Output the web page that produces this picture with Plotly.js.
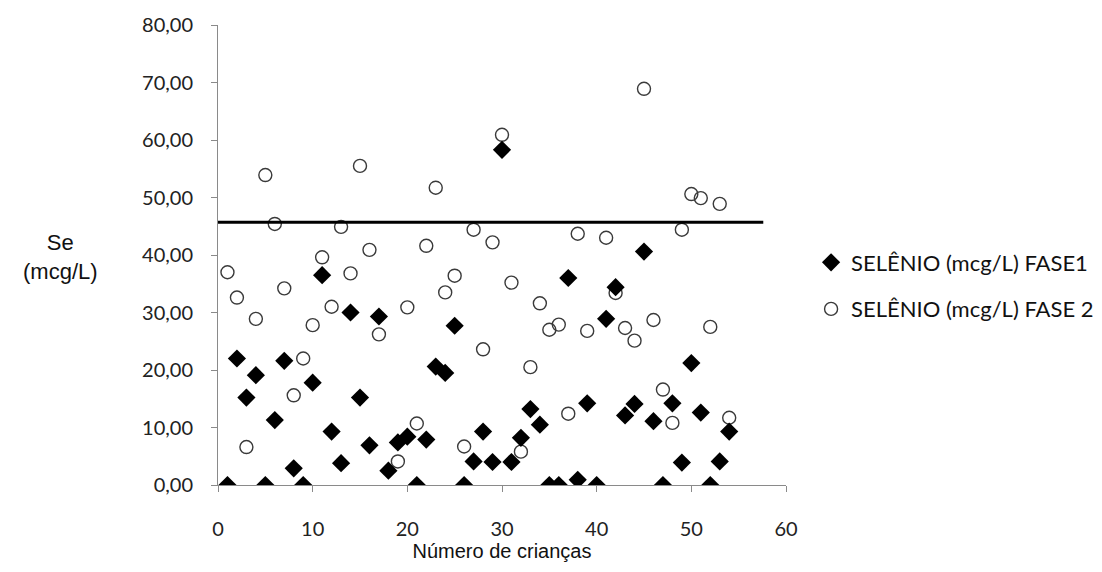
<!DOCTYPE html>
<html>
<head>
<meta charset="utf-8">
<script src="https://cdn.plot.ly/plotly-3.0.1.min.js"></script>
<style>html,body{margin:0;padding:0;background:#fff;}#chart{width:1102px;height:572px;}</style>
</head>
<body>
<div id="chart"></div>
<script>
// Número de crianças (x)
const criancas = [1,2,3,4,5,6,7,8,9,10,11,12,13,14,15,16,17,18,19,20,21,22,23,24,25,26,27,28,29,30,31,32,33,34,35,36,37,38,39,40,41,42,43,44,45,46,47,48,49,50,51,52,53,54];
// SELÊNIO (mcg/L) FASE1
const fase1 = [0,22.0,15.2,19.1,0,11.3,21.6,2.9,0,17.8,36.5,9.3,3.8,30.0,15.2,6.9,29.3,2.5,7.4,8.4,0,7.9,20.6,19.5,27.7,0,4.1,9.3,4.0,58.3,4.0,8.2,13.2,10.5,0,0,36.0,0.9,14.2,0,28.9,34.4,12.1,14.1,40.6,11.1,0,14.2,3.9,21.2,12.6,0,4.1,9.3];
// SELÊNIO (mcg/L) FASE 2
const fase2 = [37.0,32.6,6.6,28.9,53.9,45.4,34.2,15.6,22.0,27.8,39.6,31.0,44.9,36.8,55.5,40.9,26.2,null,4.1,30.9,10.7,41.6,51.7,33.5,36.4,6.7,44.4,23.6,42.2,60.9,35.2,5.8,20.5,31.6,27.0,27.9,12.4,43.7,26.8,null,43.0,33.4,27.3,25.1,68.9,28.7,16.6,10.8,44.4,50.6,49.9,27.5,48.9,11.7];
// Reference line
const limiteX = [0, 57.6];
const limiteY = [45.7, 45.7];
const nomes = ['SELÊNIO (mcg/L) FASE1', 'SELÊNIO (mcg/L) FASE 2'];
const xTicks = [0,10,20,30,40,50,60];
const yTicks = [0,10,20,30,40,50,60,70,80];

const traces = [
  {x: criancas, y: fase2, type: 'scatter', mode: 'markers', name: nomes[1], legendrank: 2, legendgroup: 'b',
   marker: {symbol: 'circle-open', size: 13, color: '#3a3a3a', line: {width: 1.4, color: '#3a3a3a'}}},
  {x: criancas, y: fase1, type: 'scatter', mode: 'markers', name: nomes[0], legendrank: 1, legendgroup: 'a',
   marker: {symbol: 'diamond', size: 14, color: '#000000', line: {width: 0}}},
  {x: limiteX, y: limiteY, type: 'scatter', mode: 'lines', showlegend: false, hoverinfo: 'skip',
   line: {color: '#000000', width: 3}}
];

const axisCommon = {
  showgrid: false, zeroline: false, showline: true, linecolor: '#8a8a8a', linewidth: 1,
  ticks: 'outside', ticklen: 6, tickcolor: '#8a8a8a', tickwidth: 1,
  tickfont: {family: 'Lato, "Open Sans", sans-serif', size: 20, color: '#222'}
};

const layout = {
  width: 1102, height: 572,
  margin: {l: 218, r: 316, t: 25, b: 87},
  paper_bgcolor: '#fff', plot_bgcolor: '#fff',
  separators: ',.',
  showlegend: true,
  xaxis: Object.assign({}, axisCommon, {
    range: [0, 60], tickvals: xTicks, tickformat: 'd', ticklabelstandoff: 20, automargin: false,
    title: {text: 'Número de crianças', font: {family: '"Liberation Sans", Arial, sans-serif', size: 20, color: '#111'}, standoff: 4}
  }),
  yaxis: Object.assign({}, axisCommon, {
    range: [0, 80], tickvals: yTicks, tickformat: '.2f', ticklabelstandoff: 14, automargin: false
  }),
  legend: {
    xref: 'container', yref: 'container',
    x: 0.736, xanchor: 'left', y: 0.5, yanchor: 'middle',
    font: {family: 'Lato, "Open Sans", sans-serif', size: 22, color: '#111'},
    tracegroupgap: 15, traceorder: 'grouped', bgcolor: 'rgba(0,0,0,0)', itemwidth: 30
  },
  annotations: [
    {text: 'Se<br>(mcg/L)', xref: 'paper', yref: 'paper', x: -0.278, y: 0.495, xanchor: 'center', yanchor: 'middle',
     showarrow: false, align: 'center', font: {family: '"Liberation Sans", Arial, sans-serif', size: 22, color: '#111'}}
  ]
};

Plotly.newPlot('chart', traces, layout, {staticPlot: true, displayModeBar: false});
</script>
</body>
</html>
